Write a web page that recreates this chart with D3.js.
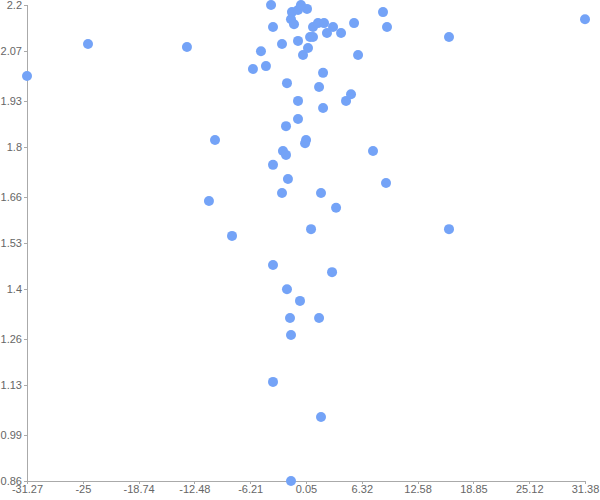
<html>
    <head>
        <meta charset="utf-8">
        <title>scatter</title>
        <script src="https://d3js.org/d3.v7.min.js"></script>
    </head>
    <body style="margin:0">
        <svg id="graph" width="600" height="500"></svg>
        <script>
            // values
            const xValues = [-31.27, -24.42, -13.31, -10.16, -10.84, -8.25, -3.65, -3.65, -1.63, -1.63,
                             -1.74, 1.52, -0.62, -2.08, 2.98, 0.62, 3.43, -2.64, 1.74, -1.97,
                             9.04, -3.65, -2.53, -2.19, 7.58, 0.06, -0.05, -2.19, -0.84, 1.97,
                             -0.84, 4.55, 5.11, 1.52, -2.08, 1.97, -5.90, -4.44, -5.00, 5.90,
                             -0.28, 0.28, -2.64, -0.84, 0.51, 0.84, 2.41, 3.99, -3.65, 0.84,
                             1.40, 2.08, 3.09, 5.45, 9.15, 8.70, -1.63, -1.29, -1.52, -0.84,
                             0.17, -3.87, -0.51, 16.11, 31.38, 16.11, 1.74];
            const yValues = [2.00, 2.09, 2.082, 1.82, 1.648, 1.55, 1.468, 1.139, 0.86, 1.271,
                             1.319, 1.319, 1.367, 1.40, 1.448, 1.569, 1.629, 1.671, 1.671, 1.71,
                             1.699, 1.75, 1.789, 1.778, 1.789, 1.82, 1.811, 1.859, 1.879, 1.91,
                             1.93, 1.93, 1.949, 1.969, 1.98, 2.009, 2.02, 2.028, 2.07, 2.059,
                             2.059, 2.079, 2.09, 2.099, 2.11, 2.11, 2.121, 2.121, 2.138, 2.138,
                             2.149, 2.149, 2.138, 2.149, 2.138, 2.18, 2.16, 2.146, 2.18, 2.186,
                             2.189, 2.20, 2.20, 2.11, 2.16, 1.569, 1.04];
            const xTicks = [-31.27, -25, -18.74, -12.48, -6.21, 0.05, 6.32, 12.58, 18.85, 25.12, 31.38];
            const yTicks = [0.86, 0.99, 1.13, 1.26, 1.4, 1.53, 1.66, 1.8, 1.93, 2.07, 2.2];

            const canvas = d3.select("svg#graph");
            const width = canvas.attr("width");
            const height = canvas.attr("height");
            const margin = {top: 5, right: 15, bottom: 19, left: 27};
            const chartWidth = width - margin.left - margin.right;
            const chartHeight = height - margin.top - margin.bottom;

            const points = xValues.map((x, i) => ({x: x, y: yValues[i]}));

            const xScale = d3.scaleLinear().domain(d3.extent(xValues)).range([0, chartWidth]);
            const yScale = d3.scaleLinear().domain(d3.extent(yValues)).range([chartHeight, 0]);

            const chartArea = canvas.append("g")
                .attr("transform", `translate(${margin.left},${margin.top})`);

            // axes (plain hyphen for negatives, like the original)
            let leftAxis = d3.axisLeft(yScale).tickValues(yTicks).tickSize(3).tickPadding(2)
                             .tickFormat(d => String(d));
            let bottomAxis = d3.axisBottom(xScale).tickValues(xTicks).tickSize(3).tickPadding(1)
                             .tickFormat(d => String(d));
            chartArea.append("g")
                .attr("class", "axis")
                .attr("transform", `translate(0,${chartHeight})`)
                .call(bottomAxis);
            chartArea.append("g")
                .attr("class", "axis")
                .call(leftAxis);

            // points
            chartArea.selectAll("circle.pt")
                .data(points)
                .join("circle")
                .attr("class", "pt")
                .attr("cx", d => xScale(d.x))
                .attr("cy", d => yScale(d.y))
                .attr("r", 5)
                .attr("fill", "#74a3f7");
        </script>
    </body>
</html>

<style>
    .axis path, .axis line {
        stroke: #aaa;
        shape-rendering: crispEdges;
    }
    .axis text {
        fill: #666;
        font-family: "Liberation Sans", Arial, sans-serif;
        font-size: 11px;
    }
</style>
